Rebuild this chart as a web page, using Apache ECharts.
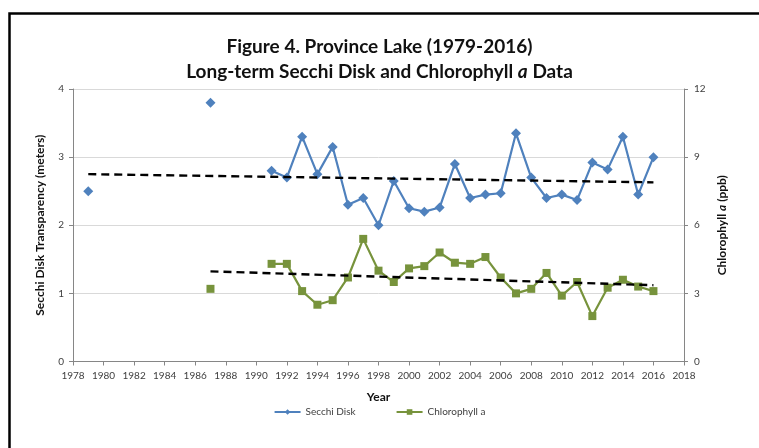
<!DOCTYPE html>
<html>
<head>
<meta charset="utf-8">
<script src="https://cdn.jsdelivr.net/npm/echarts@6/dist/echarts.min.js"></script>
<style>
html,body{margin:0;padding:0;background:#fff;}
#c{width:759px;height:448px;}
</style>
</head>
<body>
<div id="c"></div>
<script>
// ---- data ----
const years = [1979, 1987, 1991, 1992, 1993, 1994, 1995, 1996, 1997, 1998, 1999, 2000, 2001, 2002, 2003, 2004, 2005, 2006, 2007, 2008, 2009, 2010, 2011, 2012, 2013, 2014, 2015, 2016];
const secchi = [2.5, 3.8, 2.8, 2.7, 3.3, 2.75, 3.15, 2.3, 2.4, 2.0, 2.65, 2.25, 2.2, 2.26, 2.9, 2.4, 2.45, 2.47, 3.35, 2.7, 2.4, 2.45, 2.37, 2.92, 2.82, 3.3, 2.45, 3.0];
const chlorophyll = [null, 3.2, 4.3, 4.3, 3.1, 2.5, 2.7, 3.7, 5.4, 4.0, 3.5, 4.1, 4.2, 4.8, 4.35, 4.3, 4.6, 3.7, 3.0, 3.2, 3.9, 2.9, 3.5, 2.0, 3.25, 3.6, 3.3, 3.1];
const secchiTrendYears = [1979, 2016];
const secchiTrend = [2.75, 2.63];
const chlTrendYears = [1987, 2016];
const chlTrend = [3.97, 3.36];
const leftTicks = [0, 1, 2, 3, 4];
const rightTicks = [0, 3, 6, 9, 12];
const xMin = 1978, xMax = 2018, xStep = 2;

function buildSeries(xs, ys) {
  const out = [];
  let prev = null;
  for (let i = 0; i < xs.length; i++) {
    if (ys[i] === null || ys[i] === undefined) { continue; }
    if (prev !== null && xs[i] - prev > 1) out.push([(xs[i] + prev) / 2, '-']);
    out.push([xs[i], ys[i]]);
    prev = xs[i];
  }
  return out;
}
function pairs(xs, ys) { return xs.map((x, i) => [x, ys[i]]); }

const FONT = 'Lato, "Open Sans", sans-serif';
const BLUE = '#4F81BD';
const GREEN = '#77933C';
const LABEL = '#404040';

const chart = echarts.init(document.getElementById('c'), null, {renderer: 'canvas'});
chart.setOption({
  animation: false,
  backgroundColor: '#fff',
  textStyle: {fontFamily: FONT},
  title: {
    left: 'center', top: 29,
    text: 'Figure 4. Province Lake (1979-2016)\n{n|Long-term Secchi Disk and Chlorophyll }{i|a}{n| Data}',
    textStyle: {
      fontFamily: FONT, fontSize: 19, fontWeight: 'bold', color: '#111', lineHeight: 25,
      rich: {
        n: {fontFamily: FONT, fontSize: 19, fontWeight: 'bold', color: '#111', lineHeight: 25},
        i: {fontFamily: FONT, fontSize: 19, fontWeight: 'bold', fontStyle: 'italic', color: '#111', lineHeight: 25}
      }
    }
  },
  graphic: [{
    type: 'rect', left: 7, top: 11, silent: true,
    shape: {x: 0, y: 0, width: 800, height: 500},
    style: {fill: 'none', stroke: '#000', lineWidth: 2.5}
  }],
  legend: {
    top: 402, left: 'center', itemGap: 40, itemWidth: 26, itemHeight: 7,
    textStyle: {fontFamily: FONT, fontSize: 10, color: '#404040'},
    data: ['Secchi Disk', 'Chlorophyll a']
  },
  grid: {left: 73, right: 75, top: 89, bottom: 86.5, containLabel: false},
  xAxis: {
    type: 'value', min: xMin, max: xMax, interval: xStep,
    name: 'Year', nameLocation: 'middle', nameGap: 30,
    nameTextStyle: {fontFamily: FONT, fontSize: 12, fontWeight: 'bold', color: '#111'},
    axisLine: {show: true, lineStyle: {color: '#868686', width: 1}},
    axisTick: {show: true, length: 4, lineStyle: {color: '#868686'}},
    splitLine: {show: false},
    axisLabel: {fontSize: 10, color: LABEL, margin: 9, formatter: v => String(v)}
  },
  yAxis: [{
    type: 'value', min: leftTicks[0], max: leftTicks[leftTicks.length - 1], interval: leftTicks[1] - leftTicks[0],
    name: 'Secchi Disk Transparency (meters)', nameLocation: 'middle', nameGap: 27, nameRotate: 90,
    nameTextStyle: {fontFamily: FONT, fontSize: 12, fontWeight: 'bold', color: '#111'},
    axisLine: {show: true, lineStyle: {color: '#868686'}},
    axisTick: {show: true, length: 4, lineStyle: {color: '#868686'}},
    splitLine: {show: true, lineStyle: {color: '#D9D9D9'}},
    axisLabel: {fontSize: 10, color: LABEL, margin: 9}
  }, {
    type: 'value', min: rightTicks[0], max: rightTicks[rightTicks.length - 1], interval: rightTicks[1] - rightTicks[0],
    position: 'right',
    name: '{n|Chlorophyll }{i|a}{n| (ppb)}', nameLocation: 'middle', nameGap: 26, nameRotate: 90,
    nameTextStyle: {
      fontFamily: FONT, fontSize: 12, fontWeight: 'bold', color: '#111',
      rich: {
        n: {fontFamily: FONT, fontSize: 12, fontWeight: 'bold', color: '#111'},
        i: {fontFamily: FONT, fontSize: 12, fontWeight: 'bold', fontStyle: 'italic', color: '#111'}
      }
    },
    axisLine: {show: true, lineStyle: {color: '#868686'}},
    axisTick: {show: true, length: 4, lineStyle: {color: '#868686'}},
    splitLine: {show: false},
    axisLabel: {fontSize: 10, color: LABEL, margin: 10}
  }],
  series: [{
    name: 'Secchi Disk', type: 'line', yAxisIndex: 0,
    data: buildSeries(years, secchi), connectNulls: false,
    symbol: 'diamond', symbolSize: 10, showSymbol: true, showAllSymbol: true,
    itemStyle: {color: BLUE}, lineStyle: {color: BLUE, width: 2.2}, z: 3
  }, {
    name: 'Chlorophyll a', type: 'line', yAxisIndex: 1,
    data: buildSeries(years, chlorophyll), connectNulls: false,
    symbol: 'rect', symbolSize: 8, showSymbol: true, showAllSymbol: true,
    itemStyle: {color: GREEN}, lineStyle: {color: GREEN, width: 2.2}, z: 3
  }, {
    name: 'Secchi trend', type: 'line', yAxisIndex: 0,
    data: pairs(secchiTrendYears, secchiTrend), symbol: 'none',
    lineStyle: {color: '#000', width: 2.4, type: [8, 5]}, z: 4, silent: true
  }, {
    name: 'Chlorophyll trend', type: 'line', yAxisIndex: 1,
    data: pairs(chlTrendYears, chlTrend), symbol: 'none',
    lineStyle: {color: '#000', width: 2.4, type: [8, 5]}, z: 4, silent: true
  }]
});
</script>
</body>
</html>
